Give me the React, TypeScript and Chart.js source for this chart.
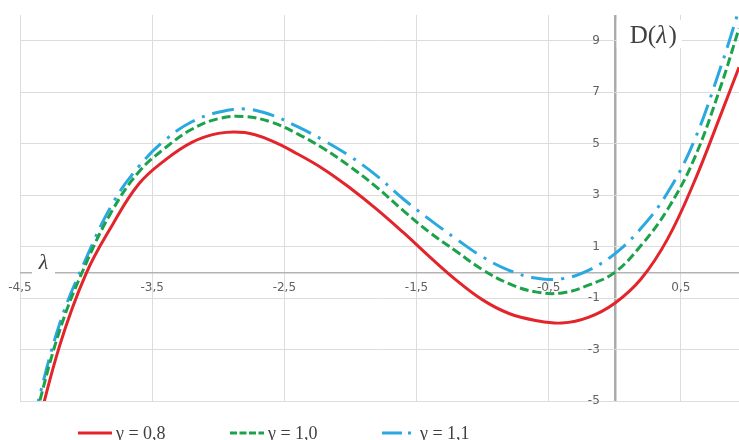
import React, { useEffect, useRef } from 'react';
import { Chart, registerables } from 'chart.js';

Chart.register(...registerables);

// λ sample positions
const lambdaValues = [-4.4, -4.2, -4.0, -3.8, -3.6, -3.4, -3.2, -3.0, -2.8, -2.6, -2.4, -2.2, -2.0, -1.8, -1.6, -1.4, -1.2, -1.0, -0.8, -0.6, -0.4, -0.2, 0.0, 0.2, 0.4, 0.6, 0.8, 0.94];
// D(λ) for γ = 0,8 (red, solid)
const dGamma08 = [-6.7, -2.85, -0.05, 1.85, 3.44, 4.37, 5.05, 5.4, 5.43, 5.12, 4.6, 4.0, 3.27, 2.45, 1.55, 0.6, -0.3, -1.07, -1.6, -1.87, -1.97, -1.75, -1.2, -0.25, 1.3, 3.5, 6.1, 7.97];
// D(λ) for γ = 1,0 (green, dashed)
const dGamma10 = [-5.95, -2.26, 0.35, 2.42, 3.91, 4.84, 5.56, 5.97, 6.05, 5.84, 5.38, 4.8, 4.1, 3.3, 2.4, 1.55, 0.82, 0.1, -0.44, -0.76, -0.8, -0.5, 0.0, 1.05, 2.45, 4.4, 7.2, 9.48];
// D(λ) for γ = 1,1 (blue, dash-dot)
const dGamma11 = [-5.75, -2.0, 0.54, 2.67, 4.12, 5.15, 5.85, 6.22, 6.35, 6.12, 5.66, 5.12, 4.5, 3.75, 2.85, 2.05, 1.3, 0.6, 0.08, -0.22, -0.25, 0.08, 0.72, 1.72, 3.1, 5.1, 7.95, 10.2];

const seriesNames = ['γ = 0,8', 'γ = 1,0', 'γ = 1,1'];

const xGridValues = [-4.5, -3.5, -2.5, -1.5, -0.5, 0, 0.5];
const xTickValues = [-4.5, -3.5, -2.5, -1.5, -0.5, 0.5];
const xTickLabels = ['-4,5', '-3,5', '-2,5', '-1,5', '-0,5', '0,5'];
const yGridValues = [-5, -3, -1, 0, 1, 3, 5, 7, 9];
const yTickValues = [-5, -3, -1, 1, 3, 5, 7, 9];
const yTickLabels = ['-5', '-3', '-1', '1', '3', '5', '7', '9'];

const COLORS = ['#e3242b', '#1ba24a', '#2aa8e0'];
const DASHES: number[][] = [[], [9, 4], [22, 8, 3, 8]];
const LEGEND_DASHES: number[][] = [[], [7, 2.5], [20, 6, 3, 6]];

const overlayPlugin = {
  id: 'overlay',
  beforeDatasetsDraw(chart: any) {
    const { ctx, chartArea, scales } = chart;
    const xs = scales.x;
    const ys = scales.y;
    const y0 = ys.getPixelForValue(0);
    const x0 = xs.getPixelForValue(0);
    ctx.save();
    // tick labels
    ctx.fillStyle = '#626262';
    ctx.font = '12px "DejaVu Sans", Verdana, sans-serif';
    ctx.textAlign = 'center';
    ctx.textBaseline = 'middle';
    xTickValues.forEach((v, i) => {
      ctx.fillText(xTickLabels[i], xs.getPixelForValue(v), y0 + 16);
    });
    ctx.textAlign = 'right';
    yTickValues.forEach((v, i) => {
      ctx.fillText(yTickLabels[i], x0 - 15, ys.getPixelForValue(v));
    });
    // λ axis title
    ctx.fillStyle = '#ffffff';
    ctx.fillRect(chartArea.left + 12, y0 - 22, 23, 24);
    ctx.fillStyle = '#404040';
    ctx.font = 'italic 22px "Liberation Serif", "DejaVu Serif", serif';
    ctx.textAlign = 'center';
    ctx.textBaseline = 'alphabetic';
    ctx.fillText('λ', chartArea.left + 23.5, y0 - 3);
    // D(λ) axis title
    ctx.fillStyle = '#ffffff';
    ctx.fillRect(x0 + 2, chartArea.top + 5, 65, 28);
    ctx.fillStyle = '#404040';
    ctx.textAlign = 'left';
    let tx = x0 + 15;
    const ty = chartArea.top + 28;
    const up = '25px "Liberation Serif", "DejaVu Serif", serif';
    const it = 'italic 25px "Liberation Serif", "DejaVu Serif", serif';
    ctx.font = up;
    ctx.fillText('D(', tx, ty);
    tx += ctx.measureText('D(').width;
    ctx.font = it;
    ctx.fillText('λ', tx, ty);
    tx += ctx.measureText('λ').width + 1.5;
    ctx.font = up;
    ctx.fillText(')', tx, ty);
    ctx.restore();
  },
  afterDraw(chart: any) {
    const { ctx } = chart;
    ctx.save();
    const startX = 78;
    const step = 152;
    const ly = 433;
    seriesNames.forEach((name, i) => {
      const sx = startX + step * i;
      ctx.strokeStyle = COLORS[i];
      ctx.lineWidth = 3;
      ctx.setLineDash(LEGEND_DASHES[i]);
      ctx.beginPath();
      ctx.moveTo(sx, ly);
      ctx.lineTo(sx + 34, ly);
      ctx.stroke();
      ctx.setLineDash([]);
      ctx.fillStyle = '#404040';
      ctx.font = '18px "Liberation Serif", "DejaVu Serif", serif';
      ctx.textAlign = 'left';
      ctx.textBaseline = 'alphabetic';
      ctx.fillText(name, sx + 38, ly + 6);
    });
    ctx.restore();
  },
};

export default function App() {
  const canvasRef = useRef<HTMLCanvasElement | null>(null);

  useEffect(() => {
    const canvas = canvasRef.current;
    if (!canvas) return;
    const series = [dGamma08, dGamma10, dGamma11];
    const chart = new Chart(canvas, {
      type: 'line',
      data: {
        datasets: series.map((vals, i) => ({
          label: seriesNames[i],
          data: lambdaValues.map((l, k) => ({ x: l, y: vals[k] })),
          borderColor: COLORS[i],
          backgroundColor: COLORS[i],
          borderWidth: 3,
          borderDash: DASHES[i],
          pointRadius: 0,
          tension: 0.4,
          fill: false,
        })),
      },
      options: {
        responsive: false,
        animation: false,
        layout: { padding: { left: 20, top: 15, right: 0, bottom: 39 } },
        plugins: {
          legend: { display: false },
          tooltip: { enabled: false },
        },
        scales: {
          x: {
            type: 'linear',
            min: -4.5,
            max: 0.94,
            afterBuildTicks: (scale: any) => {
              scale.ticks = xGridValues.map((v) => ({ value: v }));
            },
            ticks: { display: false },
            border: { display: false },
            grid: {
              drawTicks: false,
              color: (c: any) => (c.tick && c.tick.value === 0 ? '#ababab' : '#dcdcdc'),
              lineWidth: (c: any) => (c.tick && c.tick.value === 0 ? 2.5 : 1),
            },
          },
          y: {
            type: 'linear',
            min: -5,
            max: 10,
            afterBuildTicks: (scale: any) => {
              scale.ticks = yGridValues.map((v) => ({ value: v }));
            },
            ticks: { display: false },
            border: { display: false },
            grid: {
              drawTicks: false,
              color: (c: any) => (c.tick && c.tick.value === 0 ? '#b3b3b3' : '#dcdcdc'),
              lineWidth: (c: any) => (c.tick && c.tick.value === 0 ? 1.5 : 1),
            },
          },
        },
      },
      plugins: [overlayPlugin],
    });
    return () => chart.destroy();
  }, []);

  return (
    <div style={{ position: 'fixed', left: 0, top: 0, width: 739, height: 440, background: '#ffffff' }}>
      <canvas ref={canvasRef} width={739} height={440} style={{ display: 'block' }} />
    </div>
  );
}
